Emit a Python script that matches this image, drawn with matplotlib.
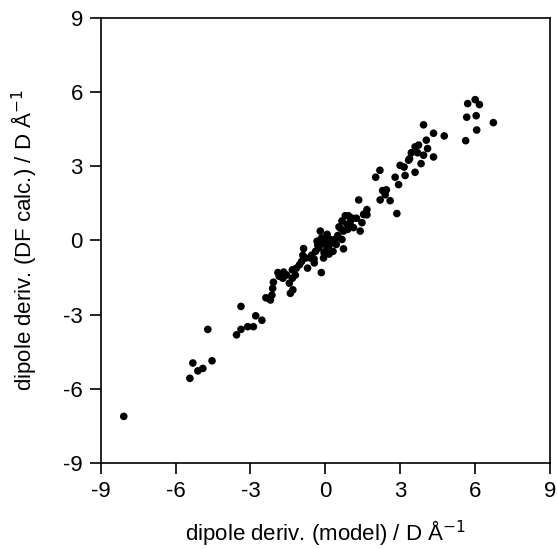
import matplotlib
matplotlib.use("Agg")
import matplotlib.pyplot as plt

plt.rcParams["font.family"] = ["Liberation Sans", "DejaVu Sans"]
plt.rcParams["axes.unicode_minus"] = False

# dipole derivatives: model (x) vs density-functional calculation (y), D/Å
model = [
    -8.08, -5.43, -5.31, -5.11, -4.91, -4.71, -4.54, -3.56, -3.38, -3.38,
    -3.11, -2.88, -2.79, -2.54, -2.38, -2.20, -2.14, -2.11, -2.08, -1.90,
    -1.67, -1.70, -1.44, -1.40, -1.30, -1.32, -1.32, -1.16, -1.03, -0.87,
    -0.79, -0.71, -0.60, -0.44, -0.39, -0.33, -0.20, -0.16, -0.07, 0.00,
    0.07, 0.13, 0.20, 0.31, 0.44, 0.67, 0.73, 0.73, 0.67, 0.80,
    0.93, 0.87, 1.13, 1.34, 1.40, 1.47, 1.54, 1.67, 1.67, 2.02,
    2.19, 2.20, 2.30, 2.40, 2.60, 2.80, 2.87, 2.94, 3.00, 3.16,
    3.20, 3.34, 3.38, 3.60, 3.60, 3.74, 3.84, 3.94, 3.94, 4.05,
    4.10, 4.34, 4.34, 4.77, 5.63, 5.67, 5.71, 6.01, 6.05, 6.07,
    6.18, 6.74,
    -0.25, -0.10, 0.05, 0.10, -0.30, 0.25, -0.15, 0.35, 0.50, -0.55,
    -0.05, 0.15, 0.55, -0.90, -1.20, 1.00, 1.10, 1.55, 0.90, -0.45,
    -1.85, -2.25, -1.55, -0.95, 0.40, 0.60, 1.25, 2.45, 3.45, 3.70,
]
dfcalc = [
    -7.12, -5.58, -4.96, -5.28, -5.18, -3.60, -4.87, -3.82, -2.67, -3.60,
    -3.49, -3.49, -3.05, -3.23, -2.32, -2.41, -2.21, -1.94, -1.69, -1.30,
    -1.28, -1.53, -1.73, -2.14, -2.00, -1.53, -1.19, -1.12, -0.98, -0.33,
    -0.71, -1.12, -0.71, -0.91, -0.44, -0.03, 0.38, -1.30, -0.71, -0.16,
    0.25, -0.23, 0.04, -0.44, -0.16, 0.04, -0.34, 0.38, 0.79, 1.00,
    1.00, 0.65, 0.52, 1.64, 0.38, 0.72, 1.06, 1.25, 1.04, 2.56,
    2.84, 1.64, 2.02, 1.85, 1.61, 2.56, 1.09, 2.26, 3.04, 2.97,
    2.63, 3.25, 3.31, 3.79, 2.76, 3.86, 3.11, 4.68, 3.45, 4.06,
    3.72, 4.34, 3.38, 4.23, 4.04, 4.99, 5.54, 5.70, 5.05, 4.47,
    5.50, 4.77,
    -0.30, -0.05, -0.40, 0.10, -0.20, -0.10, 0.10, -0.05, 0.20, -0.60,
    -0.50, -0.55, 0.55, -0.60, -1.40, 0.75, 0.90, 1.05, 0.45, -0.75,
    -1.45, -2.35, -1.40, -0.85, 0.05, 0.50, 0.90, 2.05, 3.55, 3.55,
]
ticks = [-9, -6, -3, 0, 3, 6, 9]

fig = plt.figure(figsize=(5.57, 5.49), dpi=100)
ax = fig.add_axes([0.181, 0.157, 0.806, 0.810])
ax.scatter(model, dfcalc, s=30, color="black", edgecolors="none", zorder=3)

ax.set_xlim(-9, 9)
ax.set_ylim(-9, 9)
ax.set_xticks(ticks)
ax.set_yticks(ticks)
ax.tick_params(direction="out", length=8, width=1.2, labelsize=16, pad=5,
               top=False, right=False)
for s in ax.spines.values():
    s.set_linewidth(1.2)

ax.set_xlabel("dipole deriv. (model) / D Å$^{\\mathsf{-1}}$", fontsize=16, labelpad=12)
ax.set_ylabel("dipole deriv. (DF calc.) / D Å$^{\\mathsf{-1}}$", fontsize=16, labelpad=17)

fig.savefig("out.png", dpi=100, facecolor="white")
